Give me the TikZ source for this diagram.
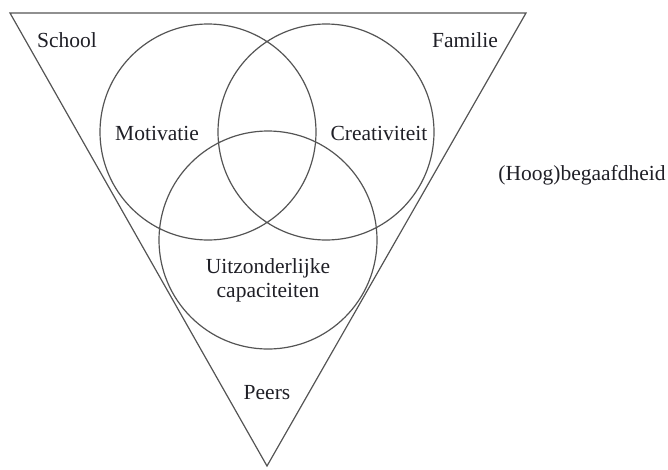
\documentclass[tikz,border=0pt]{standalone}
\usepackage{fontspec}
\setmainfont{Liberation Serif}
\usepackage{tikz}
\definecolor{venn gray}{rgb}{0.33, 0.33, 0.33}
\definecolor{label black}{rgb}{0.12, 0.12, 0.15}

\begin{document}
\begin{tikzpicture}[x=1pt, y=-1pt, line width=1.2pt,
		lbl/.style={text=label black, font=\fontsize{21.5}{24}\selectfont, align=center, inner sep=0pt}]
			\useasboundingbox (0, 0) rectangle (668, 469);
			% outline
			\draw[venn gray] 
				(10, 13) -- (526, 13) -- (267, 466) -- cycle
				(208, 132) circle [radius=108pt]
				(326, 132) circle [radius=108pt]
				(268, 240) circle [radius=109pt];
			% labels
			\node[lbl] (school) at (67, 40) {School};
			\node[lbl] (familie) at (465, 40) {Familie};
			\node[lbl] (motivatie) at (157, 133) {Motivatie};
			\node[lbl] (creativiteit) at (379, 133) {Creativiteit};
			\node[lbl] (capaciteiten) at (268, 280) {Uitzonderlijke\\capaciteiten};
			\node[lbl] (peers) at (267, 393) {Peers};
			\node[lbl] (begaafdheid) at (582, 175) {(Hoog)begaafdheid};
		\end{tikzpicture}
\end{document}
